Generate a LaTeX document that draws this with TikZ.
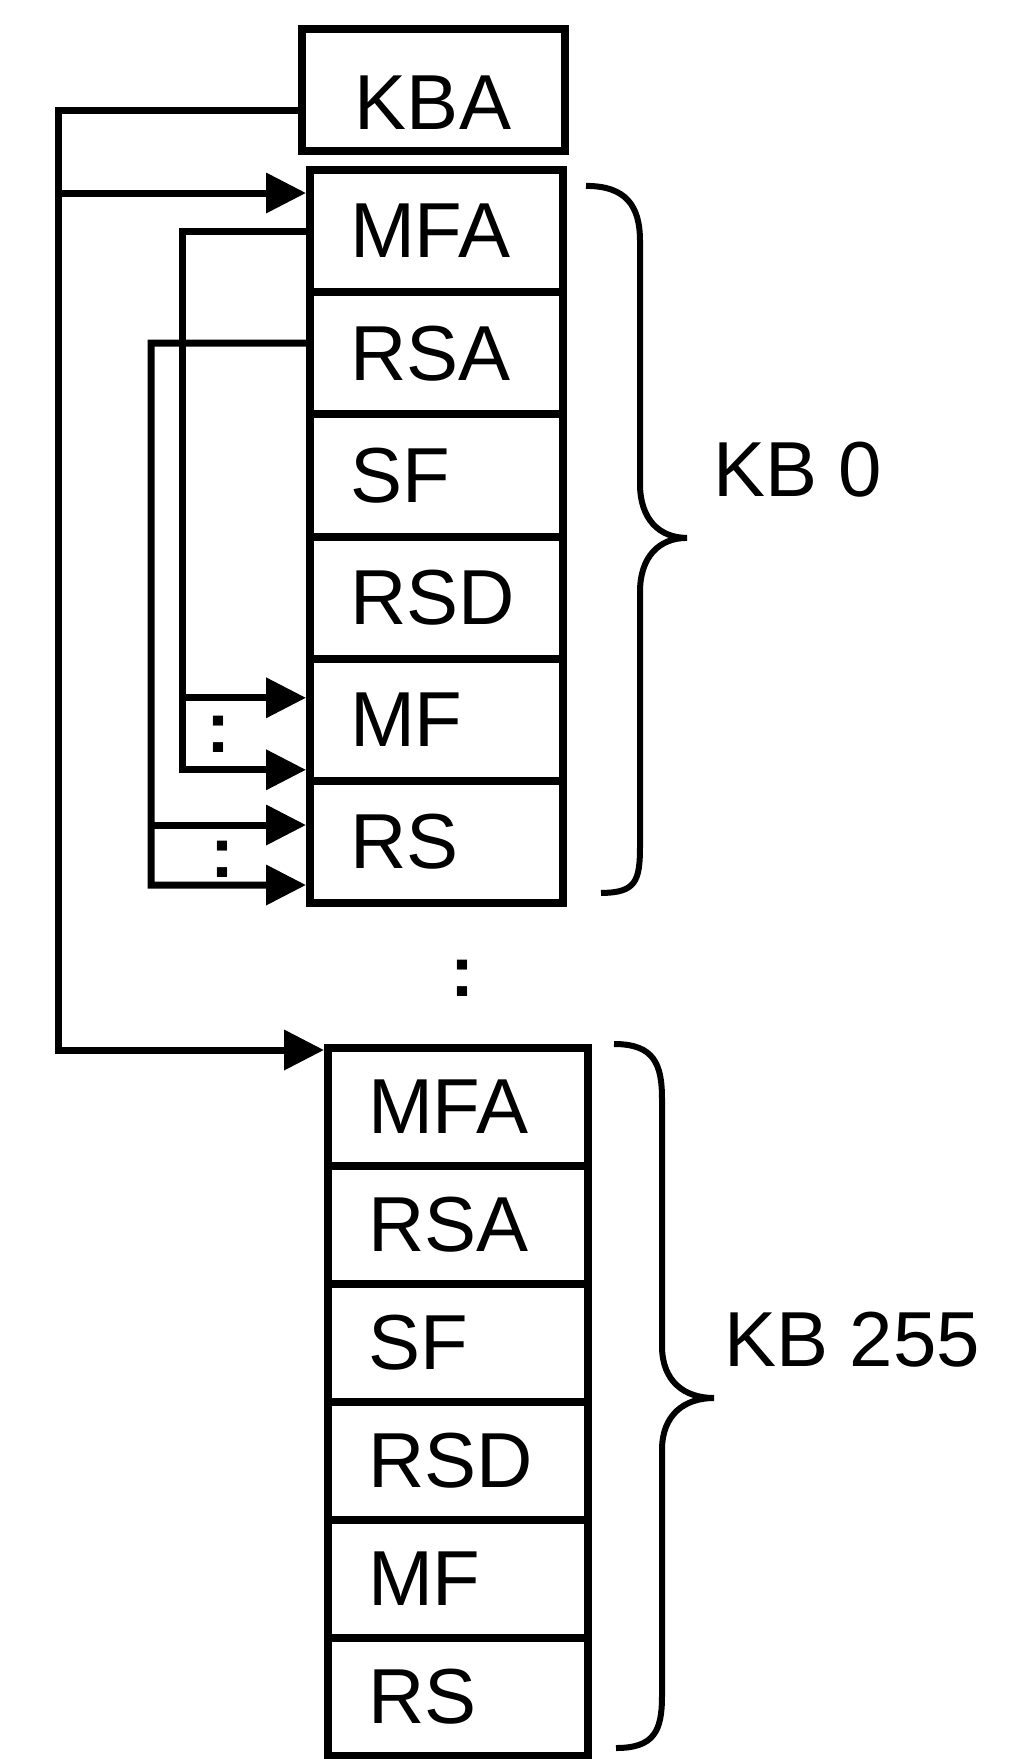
\documentclass[tikz,border=0pt]{standalone}
\usepackage{fontspec}
\setmainfont{Liberation Sans}
\usetikzlibrary{arrows.meta}
\tikzset{
  big/.style={font=\fontsize{78}{90}\selectfont},
  cell/.style={big, draw, line width=8pt, inner xsep=40pt, align=left},
  cellA/.style={cell, minimum width=253pt, minimum height=122.2pt, text width=173pt},
  cellB/.style={cell, minimum width=260pt, minimum height=118pt, text width=180pt},
  wire/.style={line width=7pt},
  arr/.style={wire, -{Triangle[length=40pt,width=39pt]}},
  brc/.style={line width=6pt},
  dots/.style={font=\fontsize{72}{80}\selectfont\bfseries, inner sep=0pt},
}
\begin{document}
\begin{tikzpicture}[x=1pt,y=1pt]
  \useasboundingbox (0,0) rectangle (1033,-1759);
  \node[big, draw, line width=8pt, minimum width=263pt, minimum height=122pt, text height=78pt] (kba) at (433,-90) {KBA};
  % KB 0
  \node[cellA] (mfa0) at (436.5,-231)   {MFA};
  \node[cellA] (rsa0) at (436.5,-353.2) {RSA};
  \node[cellA] (sf0)  at (436.5,-475.4) {SF};
  \node[cellA] (rsd0) at (436.5,-597.6) {RSD};
  \node[cellA] (mf0)  at (436.5,-719.8) {MF};
  \node[cellA] (rs0)  at (436.5,-842)   {RS};
  % KB 255
  \node[cellB] (mfa255) at (458,-1107) {MFA};
  \node[cellB] (rsa255) at (458,-1225) {RSA};
  \node[cellB] (sf255)  at (458,-1343) {SF};
  \node[cellB] (rsd255) at (458,-1461) {RSD};
  \node[cellB] (mf255)  at (458,-1579) {MF};
  \node[cellB] (rs255)  at (458,-1697) {RS};
  % pointers
  \coordinate (kbabus) at (58,-110);
  \coordinate (kb0in) at ([yshift=38pt]mfa0.west);
  \draw[arr] ([yshift=-20pt]kba.west) -- (kbabus) |- ([yshift=57pt]mfa255.west);
  \draw[arr] (kbabus |- kb0in) -- (kb0in);
  \coordinate (mfabus) at (182,-231);
  \coordinate (mfin1) at ([yshift=22pt]mf0.west);
  \coordinate (mfin2) at ([yshift=-50pt]mf0.west);
  \draw[arr] (mfa0.west) -- (mfabus) |- (mfin2);
  \draw[arr] (mfabus |- mfin1) -- (mfin1);
  \coordinate (rsabus) at (151,-343);
  \coordinate (rsin1) at ([yshift=17pt]rs0.west);
  \coordinate (rsin2) at ([yshift=-43pt]rs0.west);
  \draw[arr] ([yshift=10pt]rsa0.west) -- (rsabus) |- (rsin2);
  \draw[arr] (rsabus |- rsin1) -- (rsin1);
  \node[dots] (mfgap) at (218,-734) {:};
  \node[dots] (rsgap) at (222,-859) {:};
  \node[dots] (kbgap) at (462,-978) {:};
  % braces
  \draw[brc] ([shift={(19pt,-20pt)}]mfa0.north east)
    .. controls +(40,0) and +(0,35) .. ++(54,-55) -- ++(0,-243)
    .. controls +(0,-35) and +(-28,0) .. ++(47,-54)
    .. controls +(-28,0) and +(0,35) .. ++(-47,-54) -- ++(0,-254)
    .. controls +(0,-35) and +(35,0) .. ++(-39,-47);
  \draw[brc] ([xshift=22pt]mfa255.north east)
    .. controls +(40,0) and +(0,35) .. ++(48,-55) -- ++(0,-247)
    .. controls +(0,-35) and +(-30,0) .. ++(52,-52)
    .. controls +(-30,0) and +(0,35) .. ++(-52,-52) -- ++(0,-246)
    .. controls +(0,-35) and +(38,0) .. ++(-46,-52);
  \node[big, inner sep=0pt, anchor=west] (kb0) at (713,-470) {KB 0};
  \node[big, inner sep=0pt, anchor=west] (kb255) at (724,-1340) {KB 255};
\end{tikzpicture}
\end{document}
